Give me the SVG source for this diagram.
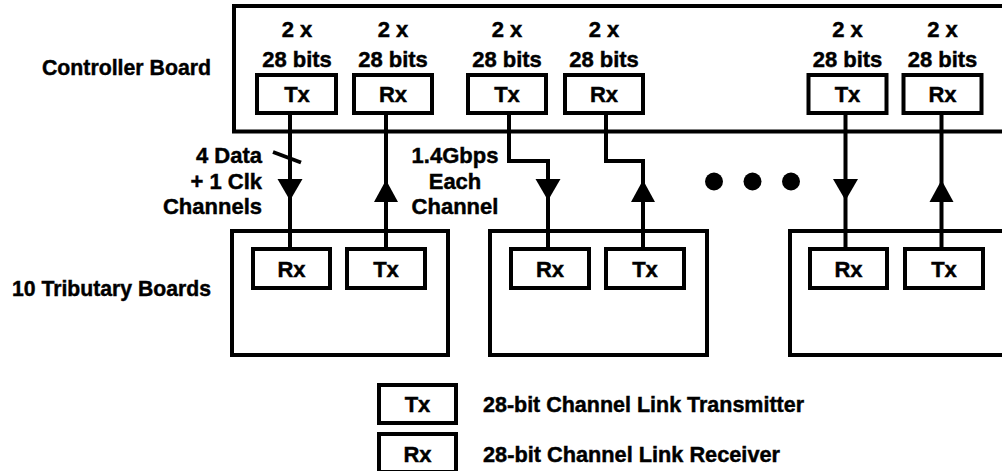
<svg xmlns="http://www.w3.org/2000/svg" xmlns:xlink="http://www.w3.org/1999/xlink" width="1002" height="471" viewBox="0 0 1002 471">
<style>
.t{font-family:"Liberation Sans",Arial,sans-serif;font-weight:bold;font-size:22px;fill:#000;stroke:#000;stroke-width:0.45px}
.m{text-anchor:middle}
.e{text-anchor:end}
.box{fill:#fff;stroke:#000;stroke-width:4}
.board{fill:none;stroke:#000;stroke-width:4}
.ln{fill:none;stroke:#000;stroke-width:4}
</style>
<defs>
<polygon id="arrDown" points="-12.5,0 12.5,0 0,21.5"/>
<polygon id="arrUp" points="-12,22 12,22 0,0"/>
</defs>
<rect width="1002" height="471" fill="#fff"/>

<text class="t" x="42" y="75" textLength="169" lengthAdjust="spacingAndGlyphs">Controller Board</text>
<text class="t" x="12" y="296" textLength="199" lengthAdjust="spacingAndGlyphs">10 Tributary Boards</text>

<g id="controller-board">
<path class="board" d="M1010 6 H234 V131.5 H1010"/>
</g>

<g id="connectors">
<line class="ln" x1="290" y1="113" x2="290" y2="249"/>
<line class="ln" x1="386" y1="113" x2="386" y2="249"/>
<path class="ln" d="M509 113 V161 H548 V249"/>
<path class="ln" d="M606 113 V161 H643 V249"/>
<line class="ln" x1="845.5" y1="113" x2="845.5" y2="249"/>
<line class="ln" x1="941.5" y1="113" x2="941.5" y2="249"/>
<line class="ln" x1="273" y1="152" x2="301" y2="162.5" stroke-width="3.5"/>
<use xlink:href="#arrDown" x="290" y="179"/>
<use xlink:href="#arrUp" x="386" y="180"/>
<use xlink:href="#arrDown" x="548" y="179"/>
<use xlink:href="#arrUp" x="643" y="180"/>
<use xlink:href="#arrDown" x="845.5" y="179"/>
<use xlink:href="#arrUp" x="941.5" y="180"/>
</g>

<g id="label-channels">
<text class="t e" x="262" y="163">4 Data</text>
<text class="t e" x="262" y="189">+ 1 Clk</text>
<text class="t e" x="262" y="214">Channels</text>
</g>
<g id="label-rate">
<text class="t m" x="455" y="163">1.4Gbps</text>
<text class="t m" x="455" y="189">Each</text>
<text class="t m" x="455" y="214">Channel</text>
</g>

<g id="ellipsis">
<circle cx="714" cy="181.5" r="9"/>
<circle cx="752.5" cy="181.5" r="9"/>
<circle cx="791" cy="181.5" r="9"/>
</g>

<g id="ctrl-tx1">
<text class="t m" x="297" y="37">2 x</text>
<text class="t m" x="297" y="67">28 bits</text>
<rect class="box" x="257" y="75" width="79" height="38"/>
<text class="t m" x="297" y="102">Tx</text>
</g>
<g id="ctrl-rx1">
<text class="t m" x="393" y="37">2 x</text>
<text class="t m" x="393" y="67">28 bits</text>
<rect class="box" x="354" y="75" width="78" height="38"/>
<text class="t m" x="393" y="102">Rx</text>
</g>
<g id="ctrl-tx2">
<text class="t m" x="507" y="37">2 x</text>
<text class="t m" x="507" y="67">28 bits</text>
<rect class="box" x="468" y="75" width="78" height="38"/>
<text class="t m" x="507" y="102">Tx</text>
</g>
<g id="ctrl-rx2">
<text class="t m" x="604" y="37">2 x</text>
<text class="t m" x="604" y="67">28 bits</text>
<rect class="box" x="565" y="75" width="78" height="38"/>
<text class="t m" x="604" y="102">Rx</text>
</g>
<g id="ctrl-tx3">
<text class="t m" x="847.5" y="37">2 x</text>
<text class="t m" x="847.5" y="67">28 bits</text>
<rect class="box" x="808.5" y="75" width="78" height="38"/>
<text class="t m" x="847.5" y="102">Tx</text>
</g>
<g id="ctrl-rx3">
<text class="t m" x="942.5" y="37">2 x</text>
<text class="t m" x="942.5" y="67">28 bits</text>
<rect class="box" x="903.5" y="75" width="78" height="38"/>
<text class="t m" x="942.5" y="102">Rx</text>
</g>

<g id="trib-board-1">
<rect class="board" x="232" y="231" width="216" height="124"/>
<rect class="box" x="253" y="249" width="77" height="39"/>
<text class="t m" x="291.5" y="276.5">Rx</text>
<rect class="box" x="347" y="249" width="78" height="39"/>
<text class="t m" x="386" y="276.5">Tx</text>
</g>
<g id="trib-board-2">
<rect class="board" x="490" y="231" width="217" height="124"/>
<rect class="box" x="511" y="249" width="78" height="39"/>
<text class="t m" x="550" y="276.5">Rx</text>
<rect class="box" x="606" y="249" width="78" height="39"/>
<text class="t m" x="645" y="276.5">Tx</text>
</g>
<g id="trib-board-3">
<path class="board" d="M1010 231 H790 V355 H1010"/>
<rect class="box" x="810" y="249" width="77" height="39"/>
<text class="t m" x="848.5" y="276.5">Rx</text>
<rect class="box" x="905" y="249" width="78" height="39"/>
<text class="t m" x="944" y="276.5">Tx</text>
</g>

<g id="legend-tx">
<rect class="box" x="379" y="385" width="77" height="38"/>
<text class="t m" x="417.5" y="412">Tx</text>
<text class="t" x="483" y="412" textLength="321" lengthAdjust="spacingAndGlyphs">28-bit Channel Link Transmitter</text>
</g>
<g id="legend-rx">
<rect class="box" x="379" y="434" width="77" height="38"/>
<text class="t m" x="417.5" y="462">Rx</text>
<text class="t" x="483" y="462" textLength="297" lengthAdjust="spacingAndGlyphs">28-bit Channel Link Receiver</text>
</g>
</svg>
